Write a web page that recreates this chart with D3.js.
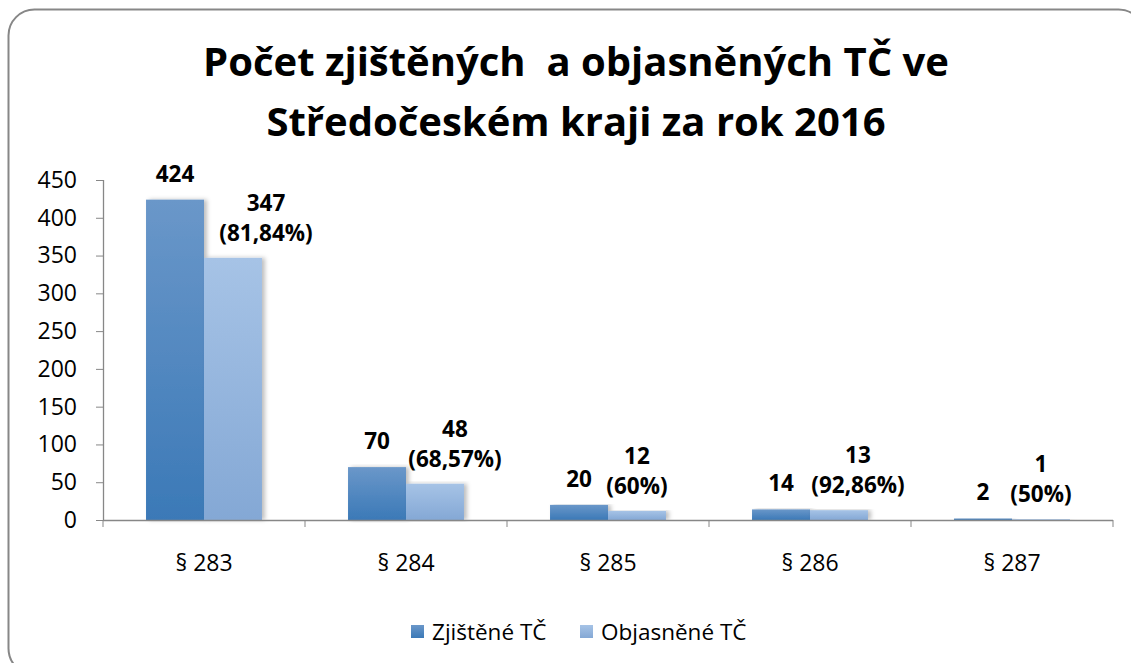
<!DOCTYPE html>
<html>
<head>
<meta charset="utf-8">
<script src="https://cdn.jsdelivr.net/npm/d3@7"></script>
<style>
  html, body { margin: 0; padding: 0; background: #fff; }
  svg { display: block; font-family: 'Open Sans', sans-serif; }
</style>
</head>
<body>
<script>
(function() {
  'use strict';

  // chart data
  const categories = ['§ 283', '§ 284', '§ 285', '§ 286', '§ 287'];
  const detected = [424, 70, 20, 14, 2];
  const solved = [347, 48, 12, 13, 1];
  const solvedPct = ['81,84%', '68,57%', '60%', '92,86%', '50%'];
  const seriesNames = ['Zjištěné TČ', 'Objasněné TČ'];
  const yTicks = [0, 50, 100, 150, 200, 250, 300, 350, 400, 450];
  const titleLines = ['Počet zjištěných  a objasněných TČ ve', 'Středočeském kraji za rok 2016'];

  // label nudges to the right, to keep labels apart (layout only)
  const solvedLabelShift = [33, 20, 0, 19, 0];

  const w = 1131;
  const h = 663;
  const left = 103, right = 1113, top = 180, bottom = 520;

  const svg = d3.select('body').append('svg')
    .attr('width', w)
    .attr('height', h);

  const defs = svg.append('defs');
  function grad(id, c1, c2) {
    const g = defs.append('linearGradient').attr('id', id)
      .attr('x1', 0).attr('y1', 0).attr('x2', 0).attr('y2', 1);
    g.append('stop').attr('offset', '0%').attr('stop-color', c1);
    g.append('stop').attr('offset', '100%').attr('stop-color', c2);
  }
  grad('gDark', '#6a97c9', '#3b79b7');
  grad('gLight', '#a6c3e6', '#84a8d5');
  const f = defs.append('filter').attr('id', 'shadow')
    .attr('x', '-20%').attr('y', '-5%').attr('width', '150%').attr('height', '110%');
  f.append('feDropShadow').attr('dx', 3).attr('dy', 0).attr('stdDeviation', 2)
    .attr('flood-color', '#000').attr('flood-opacity', 0.25);

  // outer rounded border
  svg.append('rect')
    .attr('x', 8.5).attr('y', 9.5)
    .attr('width', 1136).attr('height', 665)
    .attr('rx', 26).attr('ry', 26)
    .attr('fill', '#fff')
    .attr('stroke', '#878787')
    .attr('stroke-width', 2);

  // title
  svg.append('text')
    .attr('text-anchor', 'middle')
    .attr('font-weight', 'bold')
    .attr('font-size', 40)
    .attr('fill', '#000')
    .style('white-space', 'pre')
    .selectAll('tspan')
    .data(titleLines)
    .enter()
    .append('tspan')
    .attr('x', 576)
    .attr('y', (d, i) => 76 + i * 60)
    .text(d => d);

  // scales
  const xScale = d3.scaleBand()
    .domain(categories)
    .range([left, right])
    .paddingInner(0.426)
    .paddingOuter(0.213);

  const xInner = d3.scaleBand()
    .domain([0, 1])
    .range([0, xScale.bandwidth()]);

  const yScale = d3.scaleLinear()
    .domain([0, 450])
    .range([bottom, top]);

  // bars
  const groups = svg.selectAll('g.cat')
    .data(categories)
    .enter()
    .append('g')
    .attr('class', 'cat')
    .attr('transform', d => 'translate(' + xScale(d) + ',0)');

  groups.append('rect')
    .attr('x', xInner(0))
    .attr('y', (d, i) => yScale(detected[i]))
    .attr('width', xInner.bandwidth())
    .attr('height', (d, i) => bottom - yScale(detected[i]))
    .attr('fill', 'url(#gDark)')
    .attr('filter', 'url(#shadow)');

  groups.append('rect')
    .attr('x', xInner(1))
    .attr('y', (d, i) => yScale(solved[i]))
    .attr('width', xInner.bandwidth())
    .attr('height', (d, i) => bottom - yScale(solved[i]))
    .attr('fill', 'url(#gLight)')
    .attr('filter', 'url(#shadow)');

  // axes
  const yAxis = d3.axisLeft(yScale)
    .tickValues(yTicks)
    .tickSize(7)
    .tickPadding(19);
  const gy = svg.append('g')
    .attr('transform', 'translate(' + left + ',0)')
    .call(yAxis);

  const xAxis = d3.axisBottom(xScale)
    .tickSize(0)
    .tickPadding(35);
  const gx = svg.append('g')
    .attr('transform', 'translate(0,' + bottom + ')')
    .call(xAxis);

  // category boundary ticks
  const bounds = d3.range(categories.length + 1).map(i => left + i * xScale.step());
  gx.selectAll('line.bound')
    .data(bounds)
    .enter()
    .append('line')
    .attr('class', 'bound')
    .attr('x1', d => d).attr('x2', d => d)
    .attr('y1', 0).attr('y2', 7)
    .attr('stroke', '#878787');

  [gx, gy].forEach(g => {
    g.select('.domain').attr('stroke', '#878787').attr('stroke-width', 1.3);
    g.selectAll('.tick line').attr('stroke', '#878787');
    g.selectAll('.tick text')
      .attr('font-family', "'Open Sans', sans-serif")
      .attr('font-size', 23)
      .attr('fill', '#000');
  });
  gy.select('.domain').attr('d', 'M0.5,' + top + 'V' + bottom);
  gx.select('.domain').attr('d', 'M' + left + ',0.5H' + right);

  // data labels
  groups.append('text')
    .attr('x', xInner(0) + xInner.bandwidth() / 2)
    .attr('y', (d, i) => yScale(detected[i]) - 18)
    .attr('text-anchor', 'middle')
    .attr('font-weight', 'bold')
    .attr('font-size', 22.5)
    .text((d, i) => detected[i]);

  const solvedLbl = groups.append('text')
    .attr('text-anchor', 'middle')
    .attr('font-weight', 'bold')
    .attr('font-size', 22.5);
  solvedLbl.append('tspan')
    .attr('x', (d, i) => xInner(1) + xInner.bandwidth() / 2 + solvedLabelShift[i])
    .attr('y', (d, i) => yScale(solved[i]) - 47)
    .text((d, i) => solved[i]);
  solvedLbl.append('tspan')
    .attr('x', (d, i) => xInner(1) + xInner.bandwidth() / 2 + solvedLabelShift[i])
    .attr('y', (d, i) => yScale(solved[i]) - 17)
    .text((d, i) => '(' + solvedPct[i] + ')');

  // legend
  const legendX = [411, 580];
  const legendFill = ['url(#gDark)', 'url(#gLight)'];
  const lg = svg.selectAll('g.legend')
    .data(seriesNames)
    .enter()
    .append('g')
    .attr('class', 'legend')
    .attr('transform', (d, i) => 'translate(' + legendX[i] + ',625)');
  lg.append('rect')
    .attr('width', 13).attr('height', 13)
    .attr('fill', (d, i) => legendFill[i]);
  lg.append('text')
    .attr('x', 21).attr('y', 15)
    .attr('font-size', 22.5)
    .text(d => d);
}());
</script>
</body>
</html>
